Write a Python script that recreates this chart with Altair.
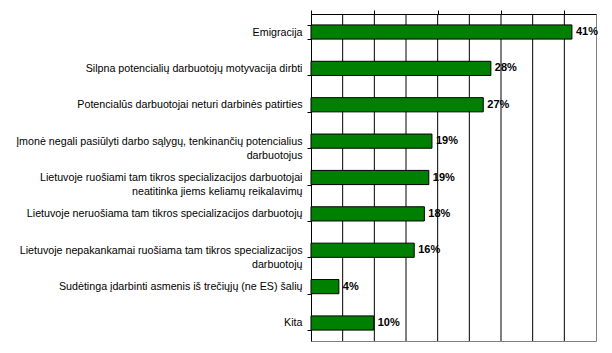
import altair as alt
import pandas as pd

categories = [
    "Emigracija",
    "Silpna potencialių darbuotojų motyvacija dirbti",
    "Potencialūs darbuotojai neturi darbinės patirties",
    "Įmonė negali pasiūlyti darbo sąlygų, tenkinančių potencialius|darbuotojus",
    "Lietuvoje ruošiami tam tikros specializacijos darbuotojai|neatitinka jiems keliamų reikalavimų",
    "Lietuvoje neruošiama tam tikros specializacijos darbuotojų",
    "Lietuvoje nepakankamai ruošiama tam tikros specializacijos|darbuotojų",
    "Sudėtinga įdarbinti asmenis iš trečiųjų (ne ES) šalių",
    "Kita",
]
values = [41.2, 28.4, 27.2, 19.1, 18.6, 17.9, 16.3, 4.4, 9.9]
value_labels = ["41%", "28%", "27%", "19%", "19%", "18%", "16%", "4%", "10%"]
x_ticks = [0, 5, 10, 15, 20, 25, 30, 35, 40, 45]
grid_lines = [5, 10, 15, 20, 25, 30, 35, 40]

df = pd.DataFrame({"cat": categories, "val": values, "lab": value_labels})
gdf = pd.DataFrame({"g": grid_lines})

y = alt.Y(
    "cat:N",
    sort=categories,
    title=None,
    scale=alt.Scale(paddingInner=0.61, paddingOuter=0.3),
    axis=alt.Axis(
        labelExpr="split(datum.label, '|')",
        labelFont="Liberation Sans",
        labelFontSize=10.7,
        labelColor="black",
        labelLimit=400,
        labelPadding=5,
        labelLineHeight=14,
        domainColor="black",
        tickColor="black",
        tickSize=4,
        tickBand="extent",
        grid=False,
    ),
)

xscale = alt.Scale(domain=[0, 45], nice=False)

x = alt.X(
    "val:Q",
    title=None,
    scale=xscale,
    axis=alt.Axis(
        orient="top",
        values=x_ticks,
        tickCount=9,
        labels=False,
        tickSize=4,
        tickColor="black",
        domainColor="black",
        grid=False,
    ),
)

grid = alt.Chart(gdf).mark_rule(color="black", strokeWidth=1).encode(
    x=alt.X("g:Q", scale=xscale, title=None)
)

bars = alt.Chart(df).mark_bar(
    color="#008000", stroke="black", strokeWidth=1
).encode(x=x, y=y)

texts = alt.Chart(df).mark_text(
    align="left", baseline="middle", dx=4, font="Liberation Sans",
    fontSize=11, fontWeight="bold", color="black"
).encode(x=x, y=y, text="lab:N")

chart = (
    alt.layer(grid, bars, texts)
    .properties(
        width=285,
        height=327,
        autosize=alt.AutoSizeParams(type="none"),
        padding={"left": 311, "top": 14, "right": 16, "bottom": 12},
        background="white",
    )
    .configure_view(stroke="#808080", strokeWidth=1)
)

chart.save("out.html", embed_options={"renderer": "svg", "actions": False})
